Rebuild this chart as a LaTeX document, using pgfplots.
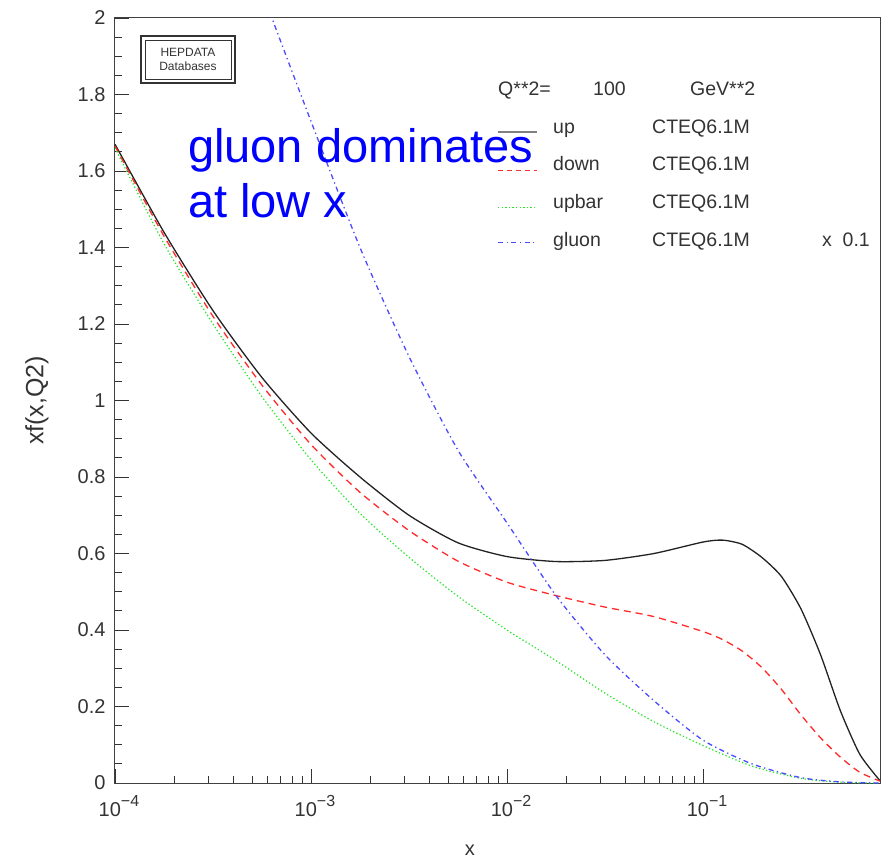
\documentclass[border=0pt]{standalone}
\usepackage{pgfplots}
\pgfplotsset{compat=1.18}
\usepackage{fontspec}
\setmainfont{Liberation Sans}

\definecolor{upc}{HTML}{222222}
\definecolor{downc}{HTML}{FF2A2A}
\definecolor{ubarc}{HTML}{22E622}
\definecolor{gluc}{HTML}{4A4AFF}
\definecolor{txt}{HTML}{333333}

\newcommand{\tickfont}{\fontsize{20}{20}\selectfont}
\newcommand{\legfont}{\fontsize{19.5}{19.5}\selectfont}
\newcommand{\ex}[1]{10\raisebox{0.5em}{\fontsize{16}{16}\selectfont −#1}}

\begin{document}
\begin{tikzpicture}
\begin{axis}[
    scale only axis,
    width=765pt, height=765pt,
    xmode=log,
    xmin=1e-4, xmax=0.8,
    ymin=0, ymax=2,
    xtick={1e-4,1e-3,1e-2,1e-1},
    xticklabels={\ex{4},\ex{3},\ex{2},\ex{1}},
    ytick={0,0.2,...,2.01},
    minor y tick num=3,
    tick align=inside,
    xtick pos=bottom, ytick pos=left,
    major tick length=14pt, minor tick length=7pt,
    tick style={black!80, line width=0.9pt},
    axis line style={black!75, line width=1pt},
    /pgf/number format/assume math mode=true,
    ticklabel style={font=\tickfont, text=txt},
    yticklabel style={xshift=-6pt},
    xticklabel style={yshift=-9pt, xshift=4pt},
    xlabel={x}, ylabel={xf(x,Q2)},
    xlabel style={font=\tickfont, text=txt, at={(axis description cs:0.464,-0.088)}, anchor=center},
    ylabel style={font=\fontsize{25}{25}\selectfont, text=txt, at={(axis description cs:-0.102,0.5)}, anchor=center},
]

% up
\addplot[upc, line width=1.3pt, smooth, tension=0.4] coordinates {
(1e-4,1.67) (1.778e-4,1.44) (3.162e-4,1.235) (5.623e-4,1.06) (1e-3,0.915)
(1.778e-3,0.80) (3.162e-3,0.70) (5.623e-3,0.628) (1e-2,0.592) (1.778e-2,0.579)
(3.162e-2,0.582) (5.623e-2,0.600) (0.1,0.630) (0.1259,0.635) (0.1585,0.624)
(0.1995,0.59) (0.2512,0.54) (0.3162,0.455) (0.3981,0.335) (0.5012,0.19)
(0.631,0.075) (0.8,0.006)
};

% down
\addplot[downc, line width=1.3pt, dash pattern=on 7pt off 5pt, smooth, tension=0.4] coordinates {
(1e-4,1.665) (1.778e-4,1.43) (3.162e-4,1.22) (5.623e-4,1.04) (1e-3,0.885)
(1.778e-3,0.76) (3.162e-3,0.66) (5.623e-3,0.58) (1e-2,0.525) (1.778e-2,0.49)
(3.162e-2,0.46) (5.623e-2,0.435) (0.1,0.396) (0.1259,0.375) (0.1585,0.345)
(0.1995,0.302) (0.2512,0.245) (0.3162,0.178) (0.3981,0.118) (0.5012,0.068)
(0.631,0.028) (0.8,0.005)
};

% upbar
\addplot[ubarc, line width=1.2pt, dash pattern=on 1.3pt off 2.3pt, smooth, tension=0.4] coordinates {
(1e-4,1.66) (1.778e-4,1.41) (3.162e-4,1.2) (5.623e-4,1.01) (1e-3,0.845)
(1.778e-3,0.705) (3.162e-3,0.59) (5.623e-3,0.488) (1e-2,0.40) (1.778e-2,0.32)
(3.162e-2,0.235) (5.623e-2,0.16) (0.1,0.098) (0.1778,0.044) (0.3162,0.012)
(0.5012,0.002) (0.8,0.0)
};

% gluon x 0.1
\addplot[gluc, line width=1.3pt, dash pattern=on 5pt off 3.5pt on 1.3pt off 3.5pt, smooth, tension=0.4] coordinates {
(5.623e-4,2.08) (6.32e-4,2.0) (1e-3,1.73) (1.778e-3,1.40) (3.162e-3,1.115)
(5.623e-3,0.87) (1e-2,0.68) (1.778e-2,0.49) (3.162e-2,0.335) (5.623e-2,0.215)
(0.1,0.112) (0.1778,0.05) (0.3162,0.014) (0.5012,0.003) (0.8,0.0)
};

% HEPDATA box
\draw[black!80, line width=1.4pt] (axis description cs:0.034,0.9765) rectangle (axis description cs:0.1569,0.915);
\draw[black!80, line width=0.6pt] (axis description cs:0.0392,0.9712) rectangle (axis description cs:0.1516,0.9203);
\node[align=center, font=\fontsize{12}{13}\selectfont, text=txt, inner sep=0pt] at (axis description cs:0.0954,0.9458) {HEPDATA\\Databases};

% annotation
\node[anchor=base west, inner sep=0pt, text=blue, font=\fontsize{47}{47}\selectfont] at (axis description cs:0.0954,0.8105) {gluon dominates};
\node[anchor=base west, inner sep=0pt, text=blue, font=\fontsize{47}{47}\selectfont] at (axis description cs:0.0954,0.7386) {at low x};

% legend
\node[anchor=base west, inner sep=0pt, text=txt, font=\legfont] at (axis description cs:0.5007,0.8993) {Q**2=};
\node[anchor=base west, inner sep=0pt, text=txt, font=\legfont] at (axis description cs:0.6248,0.8993) {100};
\node[anchor=base west, inner sep=0pt, text=txt, font=\legfont] at (axis description cs:0.7516,0.8993) {GeV**2};

\draw[black!50, line width=2pt] (axis description cs:0.5007,0.851) -- (axis description cs:0.5516,0.851);
\draw[downc, line width=1.2pt, dash pattern=on 5pt off 4pt] (axis description cs:0.5007,0.801) -- (axis description cs:0.5516,0.801);
\draw[ubarc, line width=1.2pt, dash pattern=on 1.3pt off 2.3pt] (axis description cs:0.5007,0.752) -- (axis description cs:0.5516,0.752);
\draw[gluc, line width=1.2pt, dash pattern=on 5pt off 3.5pt on 1.3pt off 3.5pt] (axis description cs:0.5007,0.707) -- (axis description cs:0.5516,0.707);

\node[anchor=base west, inner sep=0pt, text=txt, font=\legfont] at (axis description cs:0.5725,0.8484) {up};
\node[anchor=base west, inner sep=0pt, text=txt, font=\legfont] at (axis description cs:0.5725,0.8) {down};
\node[anchor=base west, inner sep=0pt, text=txt, font=\legfont] at (axis description cs:0.5725,0.7503) {upbar};
\node[anchor=base west, inner sep=0pt, text=txt, font=\legfont] at (axis description cs:0.5725,0.7007) {gluon};
\node[anchor=base west, inner sep=0pt, text=txt, font=\legfont] at (axis description cs:0.702,0.8484) {CTEQ6.1M};
\node[anchor=base west, inner sep=0pt, text=txt, font=\legfont] at (axis description cs:0.702,0.8) {CTEQ6.1M};
\node[anchor=base west, inner sep=0pt, text=txt, font=\legfont] at (axis description cs:0.702,0.7503) {CTEQ6.1M};
\node[anchor=base west, inner sep=0pt, text=txt, font=\legfont] at (axis description cs:0.702,0.7007) {CTEQ6.1M};
\node[anchor=base west, inner sep=0pt, text=txt, font=\legfont] at (axis description cs:0.924,0.7007) {x\ \ 0.1};

\coordinate (bbl) at (axis description cs:-0.1503,-0.0993);
\coordinate (btr) at (axis description cs:1.0078,1.0235);
\end{axis}
\path (bbl) rectangle (btr);
\end{tikzpicture}
\end{document}
